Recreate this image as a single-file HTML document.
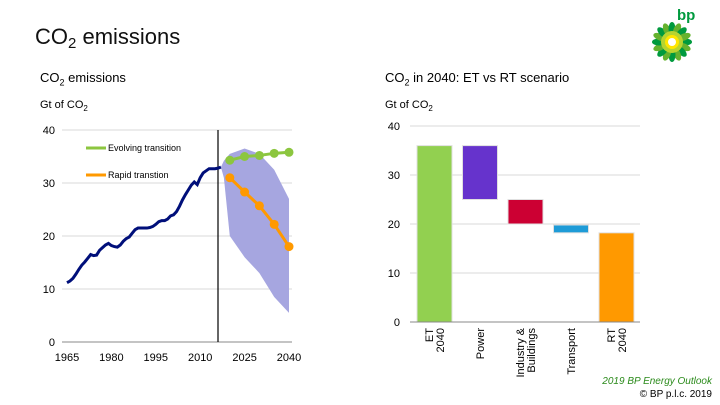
<!DOCTYPE html>
<html><head><meta charset="utf-8"><style>
body{margin:0;width:720px;height:405px;background:#fff;font-family:"Liberation Sans",sans-serif;overflow:hidden;position:relative}
.t{position:absolute;white-space:nowrap}
</style></head><body>
<div class="t" style="left:35px;top:24px;font-size:22px;color:#111">CO<span style="font-size:15px;vertical-align:-4px">2</span> emissions</div>
<div class="t" style="left:40px;top:70px;font-size:13px">CO<sub style="font-size:9px">2</sub> emissions</div>
<div class="t" style="left:40px;top:99px;font-size:11px">Gt of CO<sub style="font-size:8px">2</sub></div>
<div class="t" style="left:385px;top:70px;font-size:13px">CO<sub style="font-size:9px">2</sub> in 2040: ET vs RT scenario</div>
<div class="t" style="left:385px;top:99px;font-size:11px">Gt of CO<sub style="font-size:8px">2</sub></div>
<div class="t" style="right:8px;top:376px;font-size:10px;font-style:italic;color:#2a8a1a">2019 BP Energy Outlook</div>
<div class="t" style="right:8px;top:389px;font-size:10px">© BP p.l.c. 2019</div>
<svg id="s" width="720" height="405" style="position:absolute;left:0;top:0"></svg>
<script>
const histYears=[1965,1966,1967,1968,1969,1970,1971,1972,1973,1974,1975,1976,1977,1978,1979,1980,1981,1982,1983,1984,1985,1986,1987,1988,1989,1990,1991,1992,1993,1994,1995,1996,1997,1998,1999,2000,2001,2002,2003,2004,2005,2006,2007,2008,2009,2010,2011,2012,2013,2014,2015,2016,2017];
const histValues=[11.2,11.5,12,12.8,13.7,14.5,15.1,15.8,16.5,16.3,16.4,17.3,17.8,18.3,18.6,18.2,18.0,17.9,18.3,19.0,19.5,19.8,20.5,21.2,21.5,21.5,21.5,21.5,21.6,21.8,22.2,22.7,22.9,22.9,23.2,23.8,24.0,24.6,25.6,26.8,27.8,28.7,29.6,30.2,29.7,31.0,31.9,32.3,32.7,32.7,32.7,32.8,33.0];
const projYears=[2020,2025,2030,2035,2040];
const etValues=[34.3,35.0,35.2,35.6,35.8];
const rtValues=[31,28.3,25.7,22.2,18];
const bandYears=[2017,2018,2020,2025,2030,2035,2040];
const bandUpper=[33,34.2,35.5,36.5,35.5,32.5,27];
const bandLower=[33,31,20,16,13,8.5,5.5];
const leftTicks=[0,10,20,30,40];
const xTicks=[1965,1980,1995,2010,2025,2040];
const wfCats=["ET\n2040","Power","Industry &\nBuildings","Transport","RT\n2040"];
const wfStart=[0,36,25,19.8,0];
const wfEnd=[36,25,20,18.2,18.2];
const wfColors=["#92d050","#6633cc","#cc0033","#1e9bd7","#ff9900"];
const rightTicks=[0,10,20,30,40];

const S=document.getElementById('s');const NS='http://www.w3.org/2000/svg';
function mk(t,a,p){const e=document.createElementNS(NS,t);for(const k in a)e.setAttribute(k,a[k]);(p||S).appendChild(e);return e;}
const lx=y=>67+(y-1965)*(222/75), ly=v=>342-v*5.3;
leftTicks.forEach(v=>{if(v>0){const g=mk('line',{x1:62,x2:292,y1:ly(v),y2:ly(v),stroke:'#d9d9d9'});}
 const t=mk('text',{x:55,y:ly(v)+4,'font-size':11,'text-anchor':'end','font-family':'Liberation Sans'});t.textContent=v;});
mk('line',{x1:62,x2:292,y1:342,y2:342,stroke:'#888'});
xTicks.forEach(y=>{const t=mk('text',{x:lx(y),y:361,'font-size':11,'text-anchor':'middle','font-family':'Liberation Sans'});t.textContent=y;});
let pts=bandYears.map((y,i)=>lx(y)+','+ly(bandUpper[i])).concat(bandYears.map((y,i)=>lx(y)+','+ly(bandLower[i])).reverse());
const band=mk('polygon',{points:pts.join(' '),fill:'#a6a6e0'});
const vl=mk('line',{x1:218,x2:218,y1:130,y2:342,stroke:'#000','stroke-width':1.2});
const h=mk('polyline',{points:histYears.map((y,i)=>lx(y)+','+ly(histValues[i])).join(' '),fill:'none',stroke:'#000f7a','stroke-width':3});
function ser(vals,col,name){const p=mk('polyline',{points:projYears.map((y,i)=>lx(y)+','+ly(vals[i])).join(' '),fill:'none',stroke:col,'stroke-width':3});
 projYears.forEach((y,i)=>{const c=mk('circle',{cx:lx(y),cy:ly(vals[i]),r:4.5,fill:col});});}
ser(etValues,'#8cc63f','evolving-transition');ser(rtValues,'#ff9900','rapid-transition');
[['Evolving transition','#8cc63f',148],['Rapid transtion','#ff9900',175]].forEach(([n,c,y])=>{const l=mk('line',{x1:86,x2:106,y1:y,y2:y,stroke:c,'stroke-width':3});
 const t=mk('text',{x:108,y:y+3,'font-size':9,'font-family':'Liberation Sans'});t.textContent=n;});
// waterfall
const ry=v=>322-v*4.9, bx=i=>417+i*45.5, bw=35;
rightTicks.forEach(v=>{if(v>0){const g=mk('line',{x1:410,x2:640,y1:ry(v),y2:ry(v),stroke:'#d9d9d9'});}
 const t=mk('text',{x:400,y:ry(v)+4,'font-size':11,'text-anchor':'end','font-family':'Liberation Sans'});t.textContent=v;});
wfCats.forEach((c,i)=>{const a=ry(Math.max(wfStart[i],wfEnd[i])),b=ry(Math.min(wfStart[i],wfEnd[i]));
 const r=mk('rect',{x:bx(i),y:a,width:bw,height:b-a,fill:wfColors[i],stroke:'#e0e0e0','stroke-width':1});
 const lines=c.split('\n');const cx=bx(i)+bw/2;
 lines.forEach((ln,j)=>{const off=(j-(lines.length-1)/2)*11;const t=mk('text',{x:0,y:0,'font-size':11,'text-anchor':'end','font-family':'Liberation Sans',transform:`translate(${cx+4+off},328) rotate(-90)`});t.textContent=ln;});});
mk('line',{x1:410,x2:640,y1:322,y2:322,stroke:'#888'});
// bp logo
const lg=mk('g',{});
for(let k=0;k<16;k++){const a=k*Math.PI/8;mk('ellipse',{cx:672+Math.cos(a)*13,cy:42+Math.sin(a)*13,rx:7,ry:3.5,fill:k%2?'#66b22e':'#009a3e',transform:`rotate(${a*180/Math.PI} ${672+Math.cos(a)*13} ${42+Math.sin(a)*13})`},lg);}
mk('circle',{cx:672,cy:42,r:11,fill:'#b8d430'},lg);mk('circle',{cx:672,cy:42,r:7,fill:'#ffe600'},lg);mk('circle',{cx:672,cy:42,r:4,fill:'#fff'},lg);
const bt=mk('text',{x:677,y:20,'font-size':15,fill:'#009a3e','font-family':'Liberation Sans','font-weight':'bold'},lg);bt.textContent='bp';
</script></body></html>
